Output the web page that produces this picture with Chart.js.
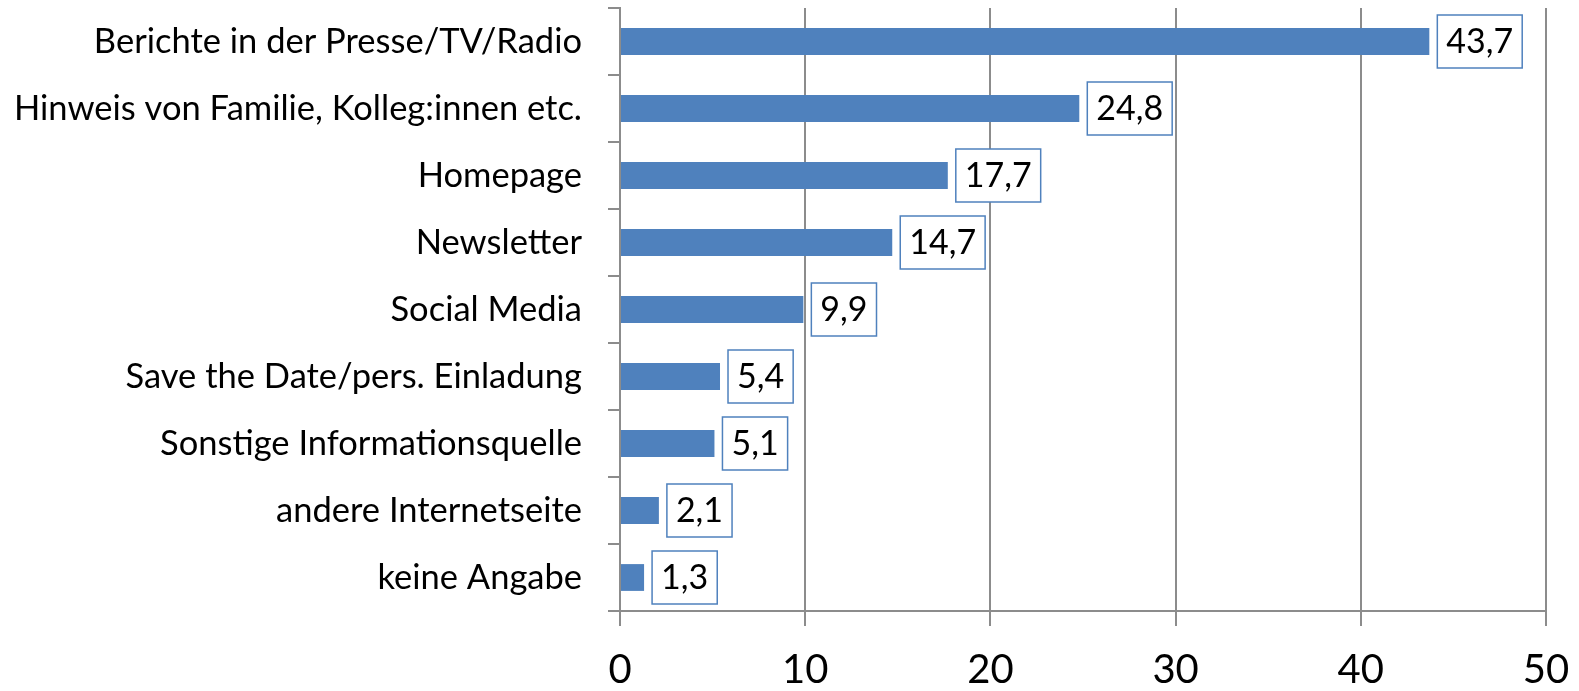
<!DOCTYPE html>
<html>
<head>
<meta charset="utf-8">
<script src="https://cdn.jsdelivr.net/npm/chart.js@4"></script>
<style>
  html, body { margin: 0; padding: 0; background: #fff; }
  #wrap { width: 1579px; height: 691px; }
</style>
</head>
<body>
<div id="wrap"><canvas id="chart" width="1579" height="691"></canvas></div>
<script>
const categories = [
  'Berichte in der Presse/TV/Radio',
  'Hinweis von Familie, Kolleg:innen etc.',
  'Homepage',
  'Newsletter',
  'Social Media',
  'Save the Date/pers. Einladung',
  'Sonstige Informationsquelle',
  'andere Internetseite',
  'keine Angabe'
];
const values = [43.7, 24.8, 17.7, 14.7, 9.9, 5.4, 5.1, 2.1, 1.3];
const xTicks = [0, 10, 20, 30, 40, 50];

const FONT = 'Lato, "Open Sans", sans-serif';
const GRID = '#8c8c8c';
const BAR = '#4f81bd';

// boxed value labels right of each bar
const boxLabels = {
  id: 'boxLabels',
  afterDatasetsDraw(chart) {
    const ctx = chart.ctx;
    const meta = chart.getDatasetMeta(0);
    ctx.save();
    ctx.font = '34px ' + FONT;
    ctx.textBaseline = 'middle';
    ctx.textAlign = 'left';
    meta.data.forEach((bar, i) => {
      const txt = values[i].toFixed(1).replace('.', ',');
      const w = ctx.measureText(txt).width;
      const left = bar.x + 8;
      const h = 53;
      const top = bar.y - h / 2;
      const bw = w + 18;
      ctx.fillStyle = '#fff';
      ctx.fillRect(left, top, bw, h);
      ctx.strokeStyle = BAR;
      ctx.lineWidth = 1.5;
      ctx.strokeRect(left, top, bw, h);
      ctx.fillStyle = '#000';
      ctx.fillText(txt, left + 9, bar.y + 1);
    });
    ctx.restore();
  }
};

new Chart(document.getElementById('chart').getContext('2d'), {
  type: 'bar',
  data: {
    labels: categories,
    datasets: [{
      data: values,
      backgroundColor: BAR,
      borderWidth: 0,
      barPercentage: 0.4,
      categoryPercentage: 1
    }]
  },
  options: {
    indexAxis: 'y',
    responsive: false,
    animation: false,
    layout: { padding: { top: 8, right: 33, left: 0, bottom: 0 } },
    plugins: { legend: { display: false }, tooltip: { enabled: false } },
    scales: {
      x: {
        min: 0,
        max: 50,
        afterFit(scale) {
          scale.height = 80;
          scale.paddingLeft = 0;
          scale.paddingRight = 0;
        },
        afterBuildTicks(scale) { scale.ticks = xTicks.map(v => ({ value: v })); },
        border: { display: true, color: GRID, width: 2 },
        grid: { color: GRID, lineWidth: 2, tickLength: 15, drawTicks: true },
        ticks: {
          color: '#000',
          padding: 20,
          font: { family: FONT, size: 40 },
          maxRotation: 0
        }
      },
      y: {
        afterFit(scale) {
          scale.width = 620;
          scale.paddingTop = 0;
          scale.paddingBottom = 0;
        },
        border: { display: true, color: GRID, width: 2 },
        grid: { drawOnChartArea: false, color: GRID, lineWidth: 2, tickLength: 12, offset: true },
        ticks: {
          color: '#000',
          padding: 26,
          font: { family: FONT, size: 34.5 }
        }
      }
    }
  },
  plugins: [boxLabels]
});
</script>
</body>
</html>
